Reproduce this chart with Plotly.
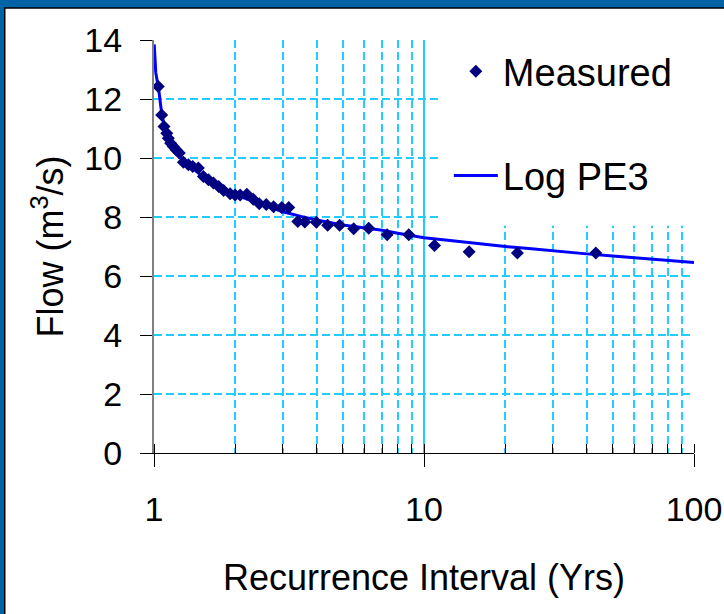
import plotly.graph_objects as go

# Measured low-flow data (recurrence interval in years, flow in m3/s)
measured_T = [1.037, 1.068, 1.089, 1.115, 1.130, 1.153, 1.179, 1.207, 1.241, 1.285,
              1.341, 1.392, 1.460, 1.524, 1.591, 1.660, 1.735, 1.811, 1.914, 1.998,
              2.085, 2.208, 2.330, 2.453, 2.604, 2.772, 2.972, 3.156, 3.408, 3.618,
              3.991, 4.396, 4.870, 5.490, 6.240, 7.302, 8.783, 10.94, 14.69, 22.17,
              43.28]
measured_Q = [12.42, 11.46, 11.07, 10.84, 10.67, 10.50, 10.39, 10.28, 10.17, 9.86,
              9.77, 9.71, 9.66, 9.37, 9.26, 9.15, 9.03, 8.90, 8.79, 8.75,
              8.75, 8.77, 8.60, 8.45, 8.42, 8.35, 8.32, 8.32, 7.85, 7.83,
              7.82, 7.72, 7.72, 7.60, 7.62, 7.40, 7.40, 7.03, 6.82, 6.78,
              6.78]

# Log Pearson type III fitted curve
fit_T = [1.002, 1.008, 1.015, 1.03, 1.04, 1.068, 1.1, 1.15, 1.2, 1.3, 1.4, 1.5,
         1.6, 1.8, 2.0, 2.3, 2.6, 3.0, 3.5, 4.0, 5.0, 6.0, 7.0, 8.0, 10.0, 12.0,
         15.0, 20.0, 25.0, 30.0, 40.0, 50.0, 60.0, 80.0, 100.0]
fit_Q = [13.85, 13.3, 12.9, 12.55, 12.35, 11.5, 10.95, 10.5, 10.25, 9.88, 9.62, 9.4,
         9.22, 8.95, 8.75, 8.55, 8.37, 8.18, 8.02, 7.9, 7.73, 7.63, 7.55, 7.45, 7.3, 7.22,
         7.12, 7.0, 6.92, 6.85, 6.75, 6.68, 6.62, 6.52, 6.46]

x_ticks = [1, 10, 100]
x_ticklabels = ["1", "10", "100"]
y_ticks = [0, 2, 4, 6, 8, 10, 12, 14]

FONT = "Liberation Sans, Arial, sans-serif"
GRID = "#22CCFF"

fig = go.Figure()
fig.add_trace(go.Scatter(
    x=fit_T, y=fit_Q, mode="lines", name="Log PE3",
    line=dict(color="#0000FF", width=3), legendgroup="b", legendrank=2,
))
fig.add_trace(go.Scatter(
    x=measured_T, y=measured_Q, mode="markers", name="Measured",
    marker=dict(symbol="diamond", color="#000080", size=10), legendgroup="a",
    legendrank=1,
))

fig.update_layout(
    width=724, height=614,
    margin=dict(l=154, r=30, t=40, b=161, autoexpand=False),
    paper_bgcolor="#0063A6",
    plot_bgcolor="rgba(0,0,0,0)",
    font=dict(family=FONT, size=34, color="#000000"),
    showlegend=True,
    legend=dict(
        x=0.546, y=1, xanchor="left", yanchor="top",
        bgcolor="#FFFFFF", borderwidth=0,
        font=dict(size=38, family=FONT),
        tracegroupgap=52, traceorder="grouped",
        itemwidth=44,
    ),
    shapes=[
        # white chart area on the blue slide background
        dict(type="rect", xref="paper", yref="paper",
             x0=-0.2764, x1=1.2, y0=-0.6, y1=1.0774,
             fillcolor="#FFFFFF", line=dict(color="#000000", width=1.5), layer="below"),
        # white legend box that hides the gridlines behind it
        dict(type="rect", xref="paper", yref="paper",
             x0=0.528, x1=0.993, y0=0.55, y1=1.0,
             fillcolor="#FFFFFF", line=dict(width=0), layer="above"),
    ],
    xaxis=dict(
        type="log", range=[0, 2],
        tickvals=x_ticks, ticktext=x_ticklabels,
        ticks="outside", ticklen=13, tickcolor="#000000", tickwidth=1,
        showline=True, linecolor="#000000", linewidth=1,
        showgrid=True, gridcolor=GRID, gridwidth=1.5,
        zeroline=False,
        ticklabelstandoff=13,
        tickfont=dict(size=34),
        minor=dict(dtick="D1", ticks="inside", ticklen=9, tickcolor="#000000",
                   showgrid=True, gridcolor=GRID, griddash="8px,4px", gridwidth=1.5),
        title=dict(text="Recurrence Interval (Yrs)", font=dict(size=36), standoff=38),
    ),
    yaxis=dict(
        range=[0, 14], tickvals=y_ticks,
        ticks="outside", ticklen=12, tickcolor="#000000", tickwidth=1,
        showline=True, linecolor="#808080", linewidth=2,
        showgrid=True, gridcolor=GRID, griddash="8px,4px", gridwidth=1.5,
        zeroline=False,
        ticklabelstandoff=11,
        tickfont=dict(size=34),
        title=dict(text="Flow (m<sup>3</sup>/s)", font=dict(size=36), standoff=10),
    ),
)

fig.write_html("out.html")
